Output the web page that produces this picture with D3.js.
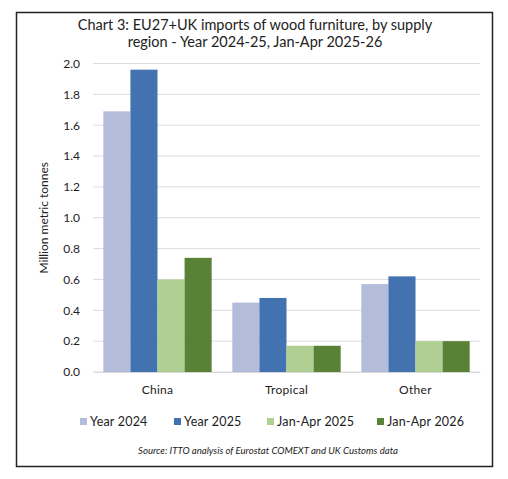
<!DOCTYPE html>
<html>
<head>
<meta charset="utf-8">
<script src="https://cdn.jsdelivr.net/npm/d3@7"></script>
<style>
    body { margin: 0; background: #fff; }
    svg text { font-family: Lato, "Open Sans", sans-serif; fill: #222; }
</style>
</head>
<body>
<svg id="chart" width="508" height="479"></svg>
<script>
// regions and series
var regions = ["China", "Tropical", "Other"];
var seriesNames = ["Year 2024", "Year 2025", "Jan-Apr 2025", "Jan-Apr 2026"];
var year2024 = [1.69, 0.45, 0.57];
var year2025 = [1.96, 0.48, 0.62];
var janApr2025 = [0.60, 0.17, 0.20];
var janApr2026 = [0.74, 0.17, 0.20];
var seriesColors = ["#B4BCDC", "#4272B0", "#AFD092", "#5A8237"];
var yTicks = [0, 0.2, 0.4, 0.6, 0.8, 1.0, 1.2, 1.4, 1.6, 1.8, 2.0];

var allSeries = [year2024, year2025, janApr2025, janApr2026];

var svg = d3.select("#chart");

// outer frame
svg.append("rect")
    .attr("x", 16.5).attr("y", 12.5)
    .attr("width", 476).attr("height", 454)
    .attr("fill", "#fff")
    .attr("stroke", "#222")
    .attr("stroke-width", 1.5);

// title
var title = svg.append("text")
    .attr("text-anchor", "middle")
    .style("font-size", "14.5px");
title.append("tspan").attr("x", 255).attr("y", 30)
    .text("Chart 3: EU27+UK imports of wood furniture, by supply");
title.append("tspan").attr("x", 255).attr("y", 47)
    .text("region - Year 2024-25, Jan-Apr 2025-26");

var margin = { top: 63.5, left: 93, right: 28, bottom: 107 },
    width = 508 - margin.left - margin.right,
    height = 479 - margin.top - margin.bottom;

var x0 = d3.scaleBand().domain(regions).range([0, width]).paddingInner(0.16).paddingOuter(0.08);
var x1 = d3.scaleBand().domain(seriesNames).range([0, x0.bandwidth()]);
var y = d3.scaleLinear().domain([0, 2.0]).range([height, 0]);

var g = svg.append("g")
    .attr("transform", "translate(" + margin.left + "," + margin.top + ")");

// gridlines
g.selectAll(".grid")
    .data(yTicks)
    .enter()
    .append("line")
    .attr("x1", 0).attr("x2", width)
    .attr("y1", function(d) { return y(d); })
    .attr("y2", function(d) { return y(d); })
    .attr("stroke", "#dcdcdc")
    .attr("stroke-width", 1);

// y axis labels
var yAxis = g.append("g")
    .call(d3.axisLeft(y).tickValues(yTicks).tickFormat(d3.format(".1f")).tickSize(0).tickPadding(13));
yAxis.select(".domain").remove();
yAxis.selectAll("text").style("font-size", "12px").style("font-family", "Lato, sans-serif").attr("fill", "#222");

// bars
var groups = g.selectAll(".region")
    .data(regions)
    .enter()
    .append("g")
    .attr("transform", function(d) { return "translate(" + x0(d) + ",0)"; });

groups.selectAll("rect")
    .data(function(d, i) {
        return seriesNames.map(function(s, j) { return { series: s, value: allSeries[j][i], color: seriesColors[j] }; });
    })
    .enter()
    .append("rect")
    .attr("x", function(d) { return x1(d.series); })
    .attr("width", x1.bandwidth())
    .attr("y", function(d) { return y(d.value); })
    .attr("height", function(d) { return height - y(d.value); })
    .attr("fill", function(d) { return d.color; });

// x axis
var xAxis = g.append("g")
    .attr("transform", "translate(0," + height + ")")
    .call(d3.axisBottom(x0).tickSize(0).tickPadding(13));
xAxis.select(".domain").attr("stroke", "#d9d9d9");
xAxis.selectAll("text").style("font-size", "12px").style("font-family", "Lato, sans-serif").style("letter-spacing", "0.3px").attr("fill", "#222");

// y axis title
svg.append("text")
    .attr("transform", "translate(48," + (margin.top + height / 2) + ") rotate(-90)")
    .attr("text-anchor", "middle")
    .style("font-size", "12px")
    .text("Million metric tonnes");

// legend
var legendX = [80, 174, 267, 377];
var legend = svg.selectAll(".legend")
    .data(seriesNames)
    .enter()
    .append("g")
    .attr("transform", function(d, i) { return "translate(" + legendX[i] + ",418)"; });
legend.append("rect")
    .attr("width", 7).attr("height", 7)
    .attr("fill", function(d, i) { return seriesColors[i]; });
legend.append("text")
    .attr("x", 10).attr("y", 7.5)
    .style("font-size", "12.5px")
    .style("letter-spacing", "0.2px")
    .text(function(d) { return d; });

// source
svg.append("text")
    .attr("x", 268).attr("y", 454)
    .attr("text-anchor", "middle")
    .style("font-size", "9.6px")
    .style("font-style", "italic")
    .text("Source: ITTO analysis of Eurostat COMEXT and UK Customs data");
</script>
</body>
</html>
